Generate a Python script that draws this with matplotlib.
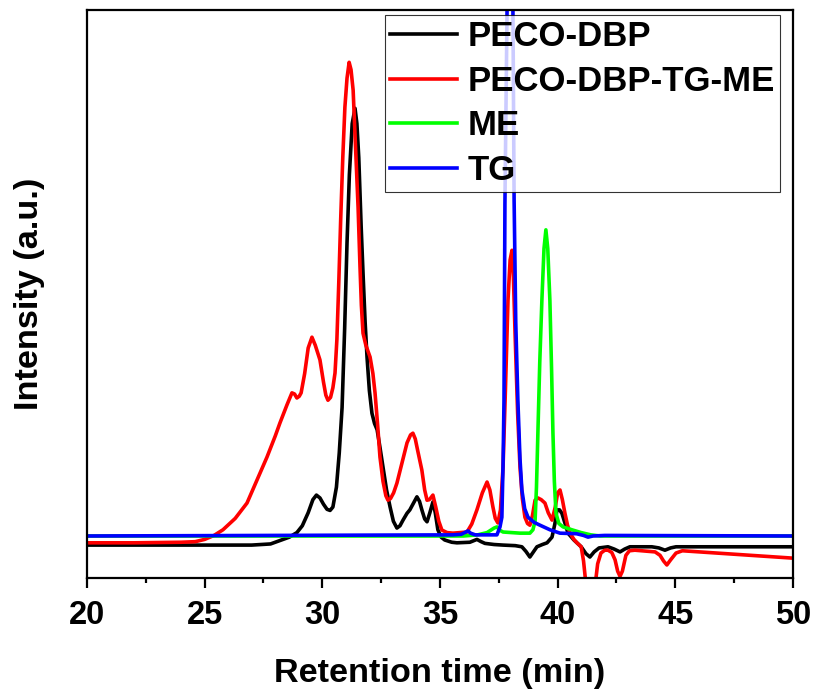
import matplotlib
matplotlib.use("Agg")
from matplotlib import pyplot as plt
from matplotlib.ticker import MultipleLocator

plt.rcParams["font.family"] = ["Liberation Sans", "DejaVu Sans"]
plt.rcParams["font.weight"] = "bold"

# retention time (min) and relative intensity (fraction of plot height)
peco_x = [20.0, 24.0, 27.0, 27.8, 28.2, 28.6, 28.92, 29.15, 29.4, 29.6, 29.75, 29.9, 30.05, 30.2,
          30.33, 30.45, 30.6, 30.72, 30.84, 30.95, 31.05, 31.15, 31.27, 31.39, 31.47, 31.55, 31.65,
          31.73, 31.82, 31.9, 32.0, 32.11, 32.22, 32.33, 32.45, 32.58, 32.73, 32.88, 33.02, 33.17,
          33.3, 33.43, 33.6, 33.72, 33.85, 34.02, 34.13, 34.23, 34.35, 34.45, 34.57, 34.7, 34.8,
          34.91, 35.05, 35.2, 35.5, 35.72, 36.27, 36.45, 36.57, 36.75, 36.91, 37.3, 37.68, 38.2,
          38.48, 38.65, 38.82, 38.97, 39.12, 39.35, 39.55, 39.76, 39.88, 39.97, 40.08, 40.18, 40.3,
          40.44, 40.69, 41.0, 41.2, 41.37, 41.55, 41.76, 42.14, 42.4, 42.65, 42.85, 43.07, 44.0,
          44.3, 44.56, 44.8, 45.03, 50.0]
peco_y = [0.058, 0.058, 0.058, 0.060, 0.066, 0.072, 0.080, 0.092, 0.115, 0.138, 0.146, 0.141, 0.130, 0.121,
          0.119, 0.125, 0.160, 0.22, 0.30, 0.44, 0.59, 0.71, 0.80, 0.827, 0.80, 0.74, 0.62,
          0.537, 0.45, 0.389, 0.33, 0.29, 0.272, 0.261, 0.23, 0.195, 0.155, 0.125, 0.100, 0.088,
          0.092, 0.102, 0.114, 0.12, 0.13, 0.143, 0.135, 0.12, 0.104, 0.099, 0.115, 0.134, 0.115,
          0.085, 0.072, 0.067, 0.063, 0.062, 0.063, 0.066, 0.068, 0.064, 0.061, 0.059, 0.058, 0.057,
          0.055, 0.047, 0.037, 0.046, 0.055, 0.059, 0.062, 0.072, 0.095, 0.12, 0.12, 0.114, 0.098,
          0.079, 0.067, 0.055, 0.043, 0.037, 0.046, 0.053, 0.055, 0.051, 0.046, 0.051, 0.055, 0.055,
          0.053, 0.049, 0.053, 0.055, 0.055]

mix_x = [20.0, 22.0, 24.0, 24.6, 25.0, 25.4, 25.78, 26.3, 26.8, 27.2, 27.65, 28.0, 28.2, 28.5, 28.71,
         28.82, 28.92, 29.02, 29.1, 29.25, 29.4, 29.56, 29.7, 29.9, 30.05, 30.15, 30.24, 30.35, 30.45,
         30.54, 30.62, 30.7, 30.78, 30.87, 30.96, 31.05, 31.14, 31.22, 31.31, 31.38, 31.45, 31.52,
         31.6, 31.66, 31.73, 31.85, 32.03, 32.15, 32.24, 32.35, 32.45, 32.58, 32.7, 32.79, 32.9, 33.03,
         33.17, 33.4, 33.6, 33.75, 33.85, 33.95, 34.05, 34.23, 34.35, 34.45, 34.55, 34.7, 34.82, 34.95,
         35.08, 35.3, 35.55, 36.15, 36.35, 36.57, 36.8, 37.0, 37.12, 37.25, 37.35, 37.46, 37.57, 37.68,
         37.78, 37.89, 37.98, 38.06, 38.12, 38.19, 38.3, 38.4, 38.5, 38.61, 38.72, 38.82, 38.93, 39.04,
         39.16, 39.3, 39.46, 39.6, 39.76, 39.9, 40.0, 40.1, 40.2, 40.31, 40.42, 40.53, 40.69, 40.82,
         41.0, 41.1, 41.2, 41.4, 41.6, 41.7, 41.84, 42.0, 42.14, 42.3, 42.44, 42.55, 42.65, 42.75, 42.9,
         43.05, 43.28, 44.14, 44.35, 44.5, 44.64, 44.8, 45.03, 45.3, 50.0]
mix_y = [0.062, 0.062, 0.063, 0.064, 0.068, 0.075, 0.085, 0.105, 0.132, 0.170, 0.213, 0.25, 0.273, 0.305, 0.326,
         0.324, 0.317, 0.320, 0.326, 0.36, 0.405, 0.424, 0.41, 0.384, 0.345, 0.322, 0.313, 0.318, 0.335,
         0.361, 0.42, 0.52, 0.63, 0.74, 0.829, 0.88, 0.908, 0.895, 0.859, 0.79, 0.72, 0.653,
         0.55, 0.48, 0.431, 0.41, 0.389, 0.36, 0.326, 0.27, 0.213, 0.17, 0.145, 0.137, 0.140, 0.150,
         0.167, 0.205, 0.238, 0.252, 0.255, 0.245, 0.225, 0.190, 0.155, 0.137, 0.138, 0.146, 0.125, 0.10,
         0.0845, 0.080, 0.079, 0.081, 0.095, 0.12, 0.15, 0.169, 0.155, 0.125, 0.105, 0.097, 0.12, 0.195,
         0.33, 0.489, 0.56, 0.577, 0.53, 0.431, 0.29, 0.195, 0.14, 0.107, 0.096, 0.093, 0.11, 0.137,
         0.141, 0.138, 0.132, 0.115, 0.102, 0.125, 0.15, 0.155, 0.138, 0.114, 0.093, 0.079, 0.068, 0.062,
         0.055, 0.03, -0.01, -0.06, -0.01, 0.025, 0.044, 0.049, 0.049, 0.045, 0.032, 0.012, 0.003, 0.012, 0.04,
         0.048, 0.049, 0.046, 0.04, 0.03, 0.023, 0.032, 0.044, 0.048, 0.035]

me_x = [20.0, 36.0, 36.6, 37.0, 37.3, 37.42, 37.55, 37.68, 38.4, 38.82, 38.95, 39.04, 39.1, 39.16, 39.24,
        39.33, 39.42, 39.5, 39.58, 39.67, 39.74, 39.8, 39.86, 39.93, 40.05, 40.23, 40.6, 41.0, 41.41,
        41.8, 50.0]
me_y = [0.074, 0.074, 0.076, 0.080, 0.088, 0.090, 0.084, 0.081, 0.079, 0.079, 0.085, 0.10, 0.16, 0.255, 0.38,
        0.489, 0.58, 0.613, 0.58, 0.489, 0.37, 0.255, 0.17, 0.114, 0.096, 0.09, 0.085, 0.080, 0.076,
        0.074, 0.074]

tg_x = [20.0, 35.55, 35.9, 36.05, 36.19, 36.3, 36.5, 37.42, 37.55, 37.63, 37.68, 37.72, 37.76, 37.85,
        37.95, 38.0, 38.1, 38.15, 38.22, 38.31, 38.4, 38.48, 38.6, 38.74, 39.0, 39.25, 39.67, 40.1,
        40.8, 41.1, 41.29, 41.5, 42.0, 50.0]
tg_y = [0.074, 0.076, 0.077, 0.080, 0.083, 0.079, 0.076, 0.076, 0.09, 0.107, 0.2, 0.313, 0.66, 1.0,
        1.5, 1.5, 1.0, 0.665, 0.45, 0.313, 0.21, 0.155, 0.122, 0.107, 0.098, 0.093, 0.085, 0.079,
        0.078, 0.075, 0.072, 0.074, 0.075, 0.074]

fig = plt.figure(figsize=(8.15, 6.92), dpi=100)
ax = fig.add_axes([0.1067, 0.1647, 0.8663, 0.8208])

ax.plot(peco_x, peco_y, color="black", lw=2.6, label="PECO-DBP")
ax.plot(mix_x, mix_y, color="#ff0000", lw=2.6, label="PECO-DBP-TG-ME")
ax.plot(me_x, me_y, color="#00ff00", lw=2.6, label="ME")
ax.plot(tg_x, tg_y, color="#0000ff", lw=2.6, label="TG")

ax.set_xlim(20, 50)
ax.set_ylim(0, 1)
ax.set_yticks([])
ax.xaxis.set_major_locator(MultipleLocator(5))
ax.xaxis.set_minor_locator(MultipleLocator(2.5))
ax.tick_params(axis="x", which="major", direction="out", length=7.5, width=1.6, labelsize=23.5, pad=8)
ax.tick_params(axis="x", which="minor", direction="out", length=3.5, width=1.6)
for spine in ax.spines.values():
    spine.set_linewidth(1.6)

ax.set_xlabel("Retention time (min)", fontsize=24.7, fontweight="bold", labelpad=20)
ax.set_ylabel("Intensity (a.u.)", fontsize=24.7, fontweight="bold", labelpad=30)

leg = ax.legend(loc="upper right", bbox_to_anchor=(0.9816, 0.991), borderaxespad=0,
                fontsize=25, frameon=True, fancybox=False, edgecolor="black",
                borderpad=0.15, handlelength=1.93, handletextpad=0.29, labelspacing=0.33)
leg.get_frame().set_linewidth(0.8)

fig.savefig("out.png", dpi=100)
plt.close(fig)
